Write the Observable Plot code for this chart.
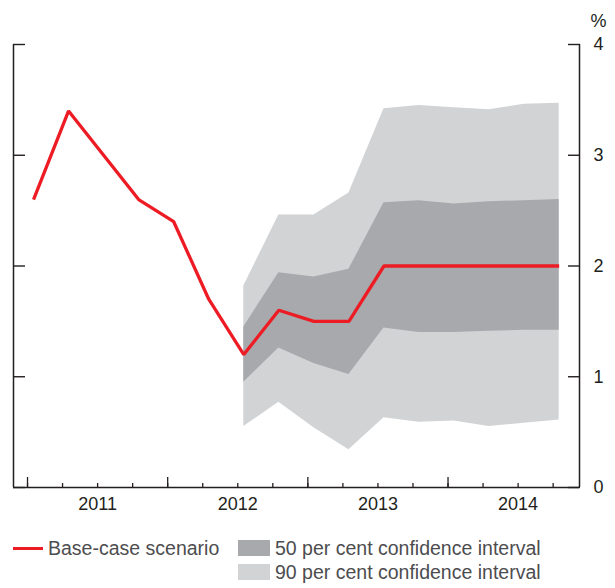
<!DOCTYPE html>
<html>
<head>
<meta charset="utf-8">
<script src="https://cdn.jsdelivr.net/npm/d3@7"></script>
<script src="https://cdn.jsdelivr.net/npm/@observablehq/plot@0.6"></script>
<style>
  body { margin: 0; background: #fff; font-family: Arial, "Liberation Sans", Helvetica, sans-serif; }
  #wrap { position: relative; width: 615px; height: 588px; overflow: hidden; }
  #chart { position: absolute; left: 0; top: 0; }
  .lg-text { position: absolute; font-size: 19.5px; color: #4d4d4f; line-height: 24px; white-space: nowrap; }
  .lg-line { position: absolute; height: 3.3px; background: #ed1c24; }
  .lg-box { position: absolute; width: 32px; height: 16px; }
</style>
</head>
<body>
<div id="wrap">
  <div id="chart"></div>
  <div class="lg-line" style="left:13px; top:546.5px; width:29.5px;"></div>
  <div class="lg-text" style="left:48px; top:536px;">Base-case scenario</div>
  <div class="lg-box" style="left:238px; top:540px; background:#a7a9ac;"></div>
  <div class="lg-text" style="left:275px; top:536px;">50 per cent confidence interval</div>
  <div class="lg-box" style="left:238px; top:564px; background:#d1d3d4;"></div>
  <div class="lg-text" style="left:275px; top:560px;">90 per cent confidence interval</div>
</div>
<script>
// ---- data ----
const quarters = ["2011-Q1","2011-Q2","2011-Q3","2011-Q4","2012-Q1","2012-Q2","2012-Q3","2012-Q4",
                  "2013-Q1","2013-Q2","2013-Q3","2013-Q4","2014-Q1","2014-Q2","2014-Q3","2014-Q4"];
const baseCase = [2.6, 3.4, 3.0, 2.6, 2.4, 1.7, 1.2, 1.6, 1.5, 1.5, 2.0, 2.0, 2.0, 2.0, 2.0, 2.0];

const bandQuarters = ["2012-Q3","2012-Q4","2013-Q1","2013-Q2","2013-Q3","2013-Q4","2014-Q1","2014-Q2","2014-Q3","2014-Q4"];
const upper90 = [1.82, 2.46, 2.46, 2.66, 3.42, 3.45, 3.43, 3.41, 3.46, 3.47];
const upper50 = [1.45, 1.94, 1.90, 1.97, 2.57, 2.59, 2.56, 2.58, 2.59, 2.60];
const lower50 = [0.95, 1.26, 1.12, 1.02, 1.44, 1.40, 1.40, 1.41, 1.42, 1.42];
const lower90 = [0.55, 0.77, 0.54, 0.34, 0.63, 0.59, 0.60, 0.55, 0.58, 0.61];

const yTicks = [0, 1, 2, 3, 4];
const yearLabels = ["2011", "2012", "2013", "2014"];

// ---- derived ----
const qToYear = q => +q.slice(0, 4) + (+q.slice(-1) - 1) / 4;
const pointOffset = 0.043; // observations sit just after the quarter tick
const base = quarters.map((q, i) => ({x: qToYear(q) + pointOffset, y: baseCase[i]}));
const bands = bandQuarters.map((q, i) => ({
  x: qToYear(q) + pointOffset,
  hi90: upper90[i], hi50: upper50[i], lo50: lower50[i], lo90: lower90[i]
}));
const quarterTicks = quarters.map(qToYear);
const yearStarts = yearLabels.map(Number);
const yearMids = yearStarts.map(y => y + 0.5);
const xDomain = [2010.9, 2014.938];

const ink = "#231f20";
const chart = Plot.plot({
  width: 615,
  height: 520,
  marginLeft: 13,
  marginRight: 36,
  marginTop: 44,
  marginBottom: 33,
  x: {domain: xDomain},
  y: {domain: [0, 4]},
  style: {fontFamily: 'Arial, "Liberation Sans", Helvetica, sans-serif', fontSize: "18px", color: ink, background: "transparent"},
  marks: [
    Plot.areaY(bands, {x: "x", y1: "lo90", y2: "hi90", fill: "#d1d3d4"}),
    Plot.areaY(bands, {x: "x", y1: "lo50", y2: "hi50", fill: "#a7a9ac"}),
    Plot.line(base, {x: "x", y: "y", stroke: "#ed1c24", strokeWidth: 3.3, strokeLinejoin: "miter", strokeLinecap: "butt"}),
    Plot.ruleX([xDomain[0]], {stroke: ink, strokeWidth: 1.5}),
    Plot.ruleX([xDomain[1]], {stroke: ink, strokeWidth: 1.5}),
    Plot.ruleY([0], {stroke: ink, strokeWidth: 1.5}),
    Plot.axisY(yTicks, {anchor: "left", tickSize: -12, tickFormat: () => "", label: null, stroke: ink, strokeWidth: 1.4}),
    Plot.axisY(yTicks, {anchor: "right", tickSize: -12, tickFormat: () => "", label: null, stroke: ink, strokeWidth: 1.4}),
    Plot.axisY(yTicks, {anchor: "right", tickSize: 0, tickPadding: 14, tickFormat: d => String(d), label: null, fill: ink}),
    Plot.axisX(quarterTicks, {anchor: "bottom", tickSize: -4, tickFormat: () => "", label: null, stroke: ink, strokeWidth: 1.3}),
    Plot.axisX(yearStarts, {anchor: "bottom", tickSize: -10, tickFormat: () => "", label: null, stroke: ink, strokeWidth: 1.3}),
    Plot.axisX(yearMids, {anchor: "bottom", tickSize: 0, tickPadding: 10, tickFormat: d => String(Math.floor(d)), label: null, fill: ink}),
    Plot.text(["%"], {frameAnchor: "top-right", dx: 19, dy: -30, textAnchor: "middle", fill: ink})
  ]
});
document.getElementById("chart").appendChild(chart);
</script>
</body>
</html>
